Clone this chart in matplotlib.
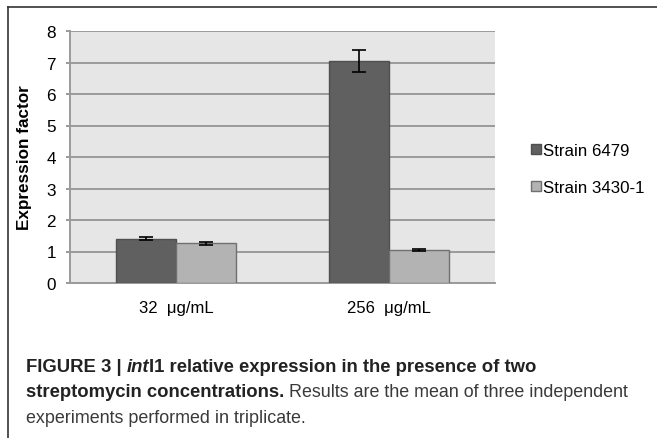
import matplotlib
matplotlib.use("Agg")
import matplotlib.pyplot as plt
import numpy as np
from matplotlib.lines import Line2D

plt.rcParams["font.family"] = ["Liberation Sans", "DejaVu Sans"]

# data
concentrations = ["32  μg/mL", "256  μg/mL"]
strains = ["Strain 6479", "Strain 3430-1"]
strain_6479 = [1.40, 7.05]
strain_6479_err = [0.05, 0.35]
strain_3430 = [1.26, 1.06]
strain_3430_err = [0.05, 0.03]
y_ticks = [0, 1, 2, 3, 4, 5, 6, 7, 8]

W, H = 657, 439
fig = plt.figure(figsize=(W / 100, H / 100), dpi=100)

# outer frame (open on the right and bottom)
fig.add_artist(Line2D([8 / W, 1.0], [1 - 8 / H, 1 - 8 / H], color="#333333", lw=1.2))
fig.add_artist(Line2D([8 / W, 8 / W], [0.0, 1 - 8 / H], color="#333333", lw=1.2))

ax = fig.add_axes([70 / W, 1 - 284 / H, 425 / W, 252 / H])
ax.set_facecolor("#e6e6e6")

x = np.arange(len(concentrations))
bw = 0.283
ax.bar(x - bw / 2, strain_6479, bw, color="#606060", edgecolor="#4f4f4f", lw=1.0,
       yerr=strain_6479_err, capsize=5, error_kw=dict(ecolor="black", elinewidth=1.2, capthick=1.2),
       label=strains[0], zorder=3)
ax.bar(x + bw / 2, strain_3430, bw, color="#b3b3b3", edgecolor="#707070", lw=1.0,
       yerr=strain_3430_err, capsize=5, error_kw=dict(ecolor="black", elinewidth=1.2, capthick=1.2),
       label=strains[1], zorder=3)

ax.set_xlim(-0.5, 1.5)
ax.set_ylim(0, 8)
ax.set_yticks(y_ticks)
ax.yaxis.grid(True, color="#9a9a9a", lw=1.4, zorder=0)
ax.set_axisbelow(True)
for side in ["top", "right"]:
    ax.spines[side].set_visible(False)
ax.spines["left"].set_color("#9a9a9a")
ax.spines["left"].set_linewidth(1.4)
ax.spines["bottom"].set_color("#9a9a9a")
ax.spines["bottom"].set_linewidth(1.4)
ax.tick_params(axis="y", length=3, width=1.4, color="#9a9a9a", labelsize=12.3, pad=7)
ax.set_xticks(x)
ax.set_xticklabels(concentrations)
ax.tick_params(axis="x", length=0, labelsize=12, pad=12)
ax.set_ylabel("Expression factor", fontsize=12.3, fontweight="bold")
ax.yaxis.set_label_coords(-0.089, 0.5)

ax.legend(loc="center left", bbox_to_anchor=(524 / W, 1 - 170 / H), bbox_transform=fig.transFigure,
          frameon=False, fontsize=12.2, handlelength=0.6, handleheight=0.6, handletextpad=0.15,
          labelspacing=1.3, borderaxespad=0)

# caption with mixed styles
fig.canvas.draw()
renderer = fig.canvas.get_renderer()


def put_runs(runs, x0, ybase):
    xpos = x0
    for txt, weight, style in runs:
        size = 13.3 if weight == "bold" else 12.9
        col = "#222222" if weight == "bold" else "#3a3a3a"
        t = fig.text(xpos / W, 1 - ybase / H, txt, fontsize=size, fontweight=weight,
                     fontstyle=style, color=col, va="baseline", ha="left")
        bb = t.get_window_extent(renderer)
        xpos += bb.width


put_runs([("FIGURE 3 | ", "bold", "normal"), ("int", "bold", "italic"),
          ("I1 relative expression in the presence of two", "bold", "normal")], 26, 372)
put_runs([("streptomycin concentrations.", "bold", "normal"),
          (" Results are the mean of three independent", "normal", "normal")], 26, 397)
put_runs([("experiments performed in triplicate.", "normal", "normal")], 26, 423)

fig.savefig("out.png", dpi=100)
